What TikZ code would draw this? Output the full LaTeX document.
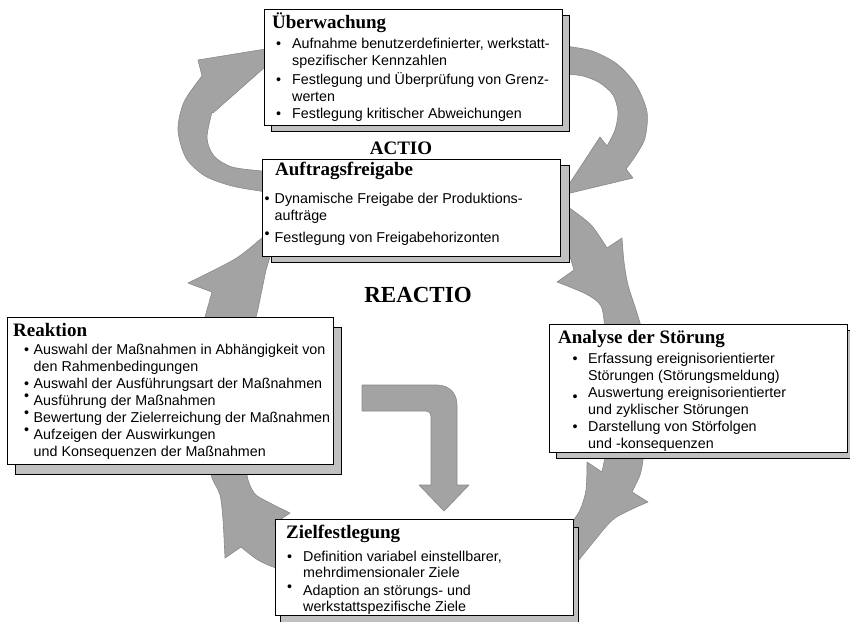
\documentclass[tikz,border=0pt]{standalone}
\usepackage{fontspec}
\setmainfont{Liberation Serif}
\newfontfamily\bodysans{Liberation Sans}
% stacked lines with a fixed baseline distance; the box baseline is the first line
\newcommand\lns[2][17pt]{\vtop{\baselineskip=#1\lineskiplimit=-100pt\lineskip=0pt\halign{##\hfil\cr#2\crcr}}}
% bullet shifted up or down without changing the line's box
\newcommand\shiftdot[1]{\raisebox{#1}[0pt][0pt]{•}}
\definecolor{arrowgray}{RGB}{163,163,163}
\definecolor{arrowedge}{RGB}{136,136,136}
\definecolor{shadowgray}{RGB}{192,192,192}
\tikzset{
  arr/.style={fill=arrowgray, draw=arrowedge, line width=0.6pt, line join=round},
  shadebox/.style={fill=shadowgray, draw=black, line width=0.8pt},
  card/.style={fill=white, draw=black, line width=0.9pt, anchor=north west, inner sep=0pt},
  ttl/.style={anchor=base west, inner sep=0pt, font=\fontsize{19}{22}\selectfont\bfseries},
  txt/.style={anchor=base west, inner sep=0pt, font=\bodysans\fontsize{14.3}{17}\selectfont},
  big/.style={anchor=base, inner sep=0pt, font=\fontsize{19}{22}\selectfont\bfseries},
}
\begin{document}
\begin{tikzpicture}[x=1pt,y=-1pt]
\useasboundingbox (0,0) rectangle (850,621);

% ---------- upper cycle (ACTIO) ----------
\path[arr] (290,198) -- (260,191)
  -- plot[smooth] coordinates {(260,191) (232,186) (205,176) (186,158) (178,130) (184,102) (202,76)}
  -- (198,60) -- (290,45) -- (213,113)
  -- plot[smooth] coordinates {(212,112) (207,138) (214,156) (232,167) (262,171)}
  -- (290,171) -- cycle;
\path[arr] (565,46)
  -- plot[smooth] coordinates {(565,46) (592,51) (617,64) (636,85) (647,112) (645,138) (636,155) (626,169)}
  -- (633,178) -- (562,195) -- (600,137) -- (607,146)
  -- plot[smooth] coordinates {(607,146) (615,130) (618,112) (613,95) (600,83) (583,76) (565,74)}
  -- cycle;

% ---------- lower cycle (REACTIO) ----------
% Auftragsfreigabe -> Analyse
\path[arr] (558,200)
  -- plot[smooth] coordinates {(558,200) (575,212) (592,226) (607,248)}
  -- (622,238)
  -- plot[smooth] coordinates {(622,238) (624,262) (628,285) (636,310) (642,330) (646,350)}
  -- (640,385)
  -- plot[smooth] coordinates {(608,360) (605,330) (601,306) (586,294) (557,282)}
  -- (574,270)
  -- plot[smooth] coordinates {(574,270) (568,250) (560,225) (552,205)}
  -- cycle;
% Analyse -> Zielfestlegung
\path[arr] (605,440) -- (605,457) -- (602,472) -- (587,462)
  -- plot[smooth] coordinates {(587,462) (586,490) (580,510) (570,525)}
  -- (556,575)
  -- plot[smooth] coordinates {(575,565) (595,540) (615,518) (648,502)}
  -- (632,492)
  -- plot[smooth] coordinates {(632,492) (640,475) (643,460) (645,440)}
  -- cycle;
% Zielfestlegung -> Reaktion
\path[arr] (295,522) -- (274,524) -- (290,513)
  -- plot[smooth] coordinates {(290,513) (268,502) (255,494) (248,480) (245,460)}
  -- (215,440)
  -- plot[smooth] coordinates {(208,460) (212,478) (220,495) (223,520) (225,558)}
  -- (241,547)
  -- plot[smooth] coordinates {(241,547) (258,560) (276,568) (295,572)}
  -- cycle;
% Reaktion -> Auftragsfreigabe
\path[arr] (205,335) -- (205,317) -- (212,292) -- (188,283)
  -- plot[smooth] coordinates {(188,283) (235,259) (262,238) (280,224)}
  -- (266,270) -- (258,309) -- (256,317) -- (256,335) -- cycle;

% bent arrow in the middle
\path[arr] (362,385) -- (437,385) .. controls (449,385) and (457,393) .. (457,405)
  -- (457,485) -- (469,485) -- (444,511) -- (419,485) -- (431,485) -- (431,416)
  .. controls (431,413) and (429,411) .. (426,411) -- (362,411) -- cycle;

% ---------- boxes with shadows ----------
\path[shadebox] (271,15) rectangle (569,131);
\node[card, minimum width=298pt, minimum height=116pt] (ueb) at (264,9) {};
\path[shadebox] (271,165) rectangle (569,262);
\node[card, minimum width=298pt, minimum height=97pt] (auf) at (262,159) {};
\path[shadebox] (15,327) rectangle (341,474);
\node[card, minimum width=326pt, minimum height=147pt] (rea) at (7,317) {};
\path[shadebox] (556,330) rectangle (854,458);
\node[card, minimum width=298pt, minimum height=128pt] (ana) at (549,324) {};
\path[shadebox] (280,527) rectangle (578,624);
\node[card, minimum width=298pt, minimum height=96pt] (zie) at (275,519) {};

% ---------- labels ----------
\node[big] (actio) at (401,154) {ACTIO};
\node[big, font=\fontsize{23}{26}\selectfont\bfseries] (reactio) at (418,302) {REACTIO};

% Überwachung
\node[ttl] (ueb-t) at (272,28) {Überwachung};
\node[txt] (ueb-b1) at (276,48) {•};
\node[txt] (ueb-i1) at (292,48) {\lns{Aufnahme benutzerdefinierter, werkstatt-\cr spezifischer Kennzahlen}};
\node[txt] (ueb-b2) at (276,84) {•};
\node[txt] (ueb-i2) at (292,84) {\lns{Festlegung und Überprüfung von Grenz-\cr werten}};
\node[txt] (ueb-b3) at (276,118.5) {•};
\node[txt] (ueb-i3) at (292,118.5) {Festlegung kritischer Abweichungen};

% Auftragsfreigabe
\node[ttl] (auf-t) at (275,175) {Auftragsfreigabe};
\node[txt] (auf-b1) at (264.5,203.5) {•};
\node[txt] (auf-i1) at (274.5,203.5) {\lns{Dynamische Freigabe der Produktions-\cr aufträge}};
\node[txt] (auf-b2) at (264.5,242) {\shiftdot{4pt}};
\node[txt] (auf-i2) at (274.5,242) {Festlegung von Freigabehorizonten};

% Reaktion
\node[ttl] (rea-t) at (13,336.5) {Reaktion};
\node[txt] (rea-b1) at (24,354.5) {•};
\node[txt] (rea-i1) at (33.5,354.5) {\lns{Auswahl der Maßnahmen in Abhängigkeit von\cr den Rahmenbedingungen}};
\node[txt] (rea-b2) at (24,388.5) {•};
\node[txt] (rea-i2) at (33.5,388.5) {Auswahl der Ausführungsart der Maßnahmen};
\node[txt] (rea-b3) at (24,405.5) {\shiftdot{5pt}};
\node[txt] (rea-i3) at (33.5,405.5) {Ausführung der Maßnahmen};
\node[txt] (rea-b4) at (24,422.5) {\shiftdot{5pt}};
\node[txt] (rea-i4) at (33.5,422.5) {Bewertung der Zielerreichung der Maßnahmen};
\node[txt] (rea-b5) at (24,439.5) {\shiftdot{5pt}};
\node[txt] (rea-i5) at (33.5,439.5) {\lns{Aufzeigen der Auswirkungen\cr und Konsequenzen der Maßnahmen}};

% Analyse der Störung
\node[ttl] (ana-t) at (558,343) {Analyse der Störung};
\node[txt] (ana-b1) at (572.5,363.5) {•};
\node[txt] (ana-i1) at (588,363.5) {\lns{Erfassung ereignisorientierter\cr Störungen (Störungsmeldung)}};
\node[txt] (ana-b2) at (572.5,397.5) {\shiftdot{-3.5pt}};
\node[txt] (ana-i2) at (588,397.5) {\lns{Auswertung ereignisorientierter\cr und zyklischer Störungen}};
\node[txt] (ana-b3) at (572.5,431) {•};
\node[txt] (ana-i3) at (588,431) {\lns{Darstellung von Störfolgen\cr und -konsequenzen}};

% Zielfestlegung
\node[ttl] (zie-t) at (286,538) {Zielfestlegung};
\node[txt] (zie-b1) at (287,561) {•};
\node[txt] (zie-i1) at (303,561) {\lns[16pt]{Definition variabel einstellbarer,\cr mehrdimensionaler Ziele}};
\node[txt] (zie-b2) at (287,595) {\shiftdot{3.5pt}};
\node[txt] (zie-i2) at (303,595) {\lns[16pt]{Adaption an störungs- und\cr werkstattspezifische Ziele}};
\end{tikzpicture}
\end{document}
